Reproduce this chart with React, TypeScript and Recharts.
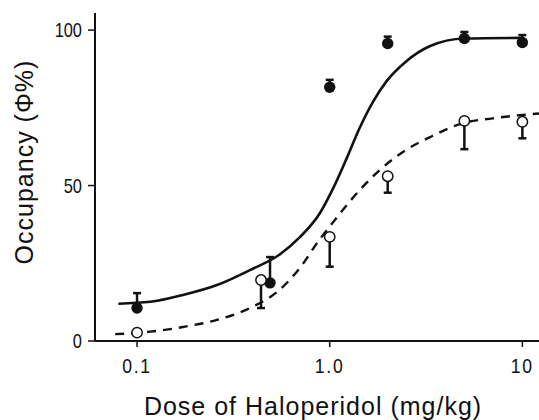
import React from 'react';
import {
  ComposedChart,
  Line,
  Scatter,
  ErrorBar,
  XAxis,
  YAxis,
} from 'recharts';

// measured points (haloperidol dose in mg/kg, occupancy in %)
const filledDose = [0.1, 0.49, 1.0, 2.0, 5.0, 10];
const filledOcc = [10.6, 18.7, 81.6, 95.7, 97.3, 96.0];
const filledErrUp = [4.8, 8.3, 2.4, 2.2, 2.1, 2.4];

const openDose = [0.1, 0.44, 1.0, 2.0, 5.0, 10];
const openOcc = [2.7, 19.6, 33.5, 53.0, 70.8, 70.5];
const openErrDown = [0, 9.0, 9.6, 5.3, 9.1, 5.3];

// fitted curves
const solidDose = [0.08, 0.117, 0.173, 0.26, 0.385, 0.55, 0.7, 0.887, 1.04, 1.22, 1.43, 1.68, 1.97, 2.5, 3.3, 5.0, 10];
const solidOcc = [12.0, 12.6, 14.8, 18.0, 22.8, 27.8, 33.4, 41.0, 49.0, 58.5, 68.5, 77.0, 83.5, 90.0, 94.8, 97.3, 97.5];

const dashedDose = [0.077, 0.117, 0.173, 0.26, 0.385, 0.55, 0.7, 0.89, 1.0, 1.13, 1.43, 1.82, 2.5, 3.3, 5.0, 7.0, 10, 12.2];
const dashedOcc = [2.2, 3.0, 4.5, 6.8, 10.6, 16.5, 23.5, 32.8, 36.8, 41.0, 48.5, 55.0, 61.5, 65.5, 70.2, 71.6, 72.7, 73.2];

const xTicks = [0.1, 1, 10];
const xTickLabels = ['0.1', '1.0', '10'];
const yTicks = [0, 50, 100];

const filledData = filledDose.map((x, i) => ({ x, y: filledOcc[i], err: [0, filledErrUp[i]] }));
const openData = openDose.map((x, i) => ({ x, y: openOcc[i], err: [openErrDown[i], 0] }));
const solidData = solidDose.map((x, i) => ({ x, y: solidOcc[i] }));
const dashedData = dashedDose.map((x, i) => ({ x, y: dashedOcc[i] }));

const INK = '#111';
const tickFont = '"Liberation Sans", Arial, Helvetica, sans-serif';
const labelFont = '"Liberation Sans", Arial, Helvetica, sans-serif';

const FilledDot = (props: any) => <circle cx={props.cx} cy={props.cy} r={5.7} fill={INK} />;
const OpenDot = (props: any) => (
  <circle cx={props.cx} cy={props.cy} r={5.2} fill="#fff" stroke={INK} strokeWidth={1.5} />
);

// narrow-looking tick numbers, squeezed horizontally around their anchor
const YTick = (props: any) => {
  const { x, y, payload } = props;
  return (
    <text
      x={x}
      y={y}
      dy="0.36em"
      textAnchor="end"
      fontFamily={tickFont}
      fontSize={20}
      fill={INK}
      transform={`translate(${x},${y}) scale(0.82,1) translate(${-x},${-y})`}
    >
      {payload.value}
    </text>
  );
};

const XTick = (props: any) => {
  const { x, y, payload } = props;
  const label = xTickLabels[xTicks.indexOf(payload.value)] ?? String(payload.value);
  return (
    <text
      x={x}
      y={y}
      dy="0.72em"
      textAnchor="middle"
      fontFamily={tickFont}
      fontSize={20}
      letterSpacing={2}
      fill={INK}
      transform={`translate(${x},${y}) scale(0.88,1) translate(${-x},${-y})`}
    >
      {label}
    </text>
  );
};

const XLabel = (props: any) => {
  const vb = props.viewBox || { x: 95, y: 341, width: 444 };
  return (
    <text
      x={vb.x + vb.width / 2 - 4}
      y={vb.y + 74}
      textAnchor="middle"
      fontFamily={labelFont}
      fontSize={25}
      letterSpacing={1}
      fill={INK}
    >
      Dose of Haloperidol (mg/kg)
    </text>
  );
};

const YLabel = () => (
  <text
    x={33}
    y={162}
    transform="rotate(-90, 33, 162)"
    textAnchor="middle"
    fontFamily={labelFont}
    fontSize={25}
    letterSpacing={1}
    fill={INK}
  >
    Occupancy (Φ%)
  </text>
);

const App: React.FC = () => {
  return (
    <div style={{ position: 'absolute', left: 0, top: 0, background: '#fff' }}>
      <ComposedChart
        width={539}
        height={420}
        margin={{ top: 13, right: 0, bottom: 0, left: 0 }}
      >
        <XAxis
          dataKey="x"
          type="number"
          scale="log"
          domain={[0.0605, 12.2]}
          allowDataOverflow
          ticks={xTicks}
          height={79}
          tickSize={6}
          tickMargin={12}
          axisLine={{ stroke: INK, strokeWidth: 2 }}
          tickLine={{ stroke: INK, strokeWidth: 1.5 }}
          tick={<XTick />}
          label={<XLabel />}
        />
        <YAxis
          type="number"
          domain={[0, 105.5]}
          allowDataOverflow
          ticks={yTicks}
          width={95}
          tickSize={7}
          tickMargin={6}
          axisLine={{ stroke: INK, strokeWidth: 2 }}
          tickLine={{ stroke: INK, strokeWidth: 1.5 }}
          tick={<YTick />}
          label={<YLabel />}
        />
        <Line
          data={solidData}
          dataKey="y"
          type="monotone"
          stroke={INK}
          strokeWidth={2.6}
          dot={false}
          activeDot={false}
          isAnimationActive={false}
        />
        <Line
          data={dashedData}
          dataKey="y"
          type="monotone"
          stroke={INK}
          strokeWidth={2.4}
          strokeDasharray="9 7"
          dot={false}
          activeDot={false}
          isAnimationActive={false}
        />
        <Scatter data={filledData} dataKey="y" shape={<FilledDot />} isAnimationActive={false}>
          <ErrorBar dataKey="err" direction="y" width={4} stroke={INK} strokeWidth={2.5} isAnimationActive={false} />
        </Scatter>
        <Scatter data={openData} dataKey="y" shape={<OpenDot />} isAnimationActive={false}>
          <ErrorBar dataKey="err" direction="y" width={4} stroke={INK} strokeWidth={2.5} isAnimationActive={false} />
        </Scatter>
      </ComposedChart>
    </div>
  );
};

export default App;
